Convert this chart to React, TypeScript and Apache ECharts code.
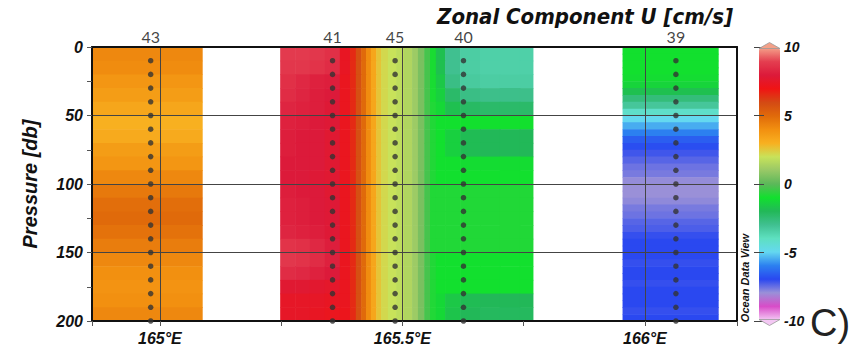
import React, { useEffect, useRef } from 'react';
import * as echarts from 'echarts';

// ---------- data ----------
const stationNames = ['43', '41', '45', '40', '39'];
const stationLons = [164.981, 165.356, 165.485, 165.626, 166.064];
const samplePressures = [10, 20, 30, 40, 50, 60, 70, 80, 90, 100, 110, 120, 130, 140, 150, 160, 170, 180, 190, 200];

// row edges (db)
const rowEdges10 = [0, 10, 20, 30, 40, 50, 60, 70, 80, 90, 100, 110, 120, 130, 140, 150, 160, 170, 180, 190, 200];
const rowEdges5 = [0, 5, 10, 15, 20, 25, 30, 35, 40, 45, 50, 55, 60, 65, 70, 75, 80, 85, 90, 95, 100,
  105, 110, 115, 120, 125, 130, 135, 140, 145, 150, 155, 160, 165, 170, 175, 180, 185, 190, 195, 200];

// block around station 43 (10 db rows)
const block1LonEdges = [164.86, 165.087];
const block1U = [4.2, 4.1, 3.8, 3.6, 3.3, 3.0, 3.2, 3.6, 3.8, 4.2, 4.6, 4.9, 5.0, 4.8, 4.5, 4.2, 4.0, 3.9, 4.0, 4.2];

// block around stations 41-45-40 (10 db rows x 25 columns)
const block2LonEdges = [165.248, 165.279, 165.309, 165.340, 165.371, 165.392, 165.404, 165.415, 165.425, 165.435,
  165.446, 165.456, 165.470, 165.487, 165.503, 165.520, 165.532, 165.545, 165.557, 165.569, 165.588, 165.619,
  165.660, 165.701, 165.742, 165.769];
const block2U = [
  [8.9, 8.9, 8.8, 8.6, 7.4, 6.6, 5.8, 5.0, 4.1, 3.3, 2.6, 2.2, 2.0, 1.8, 1.5, 1.1, 0.5, -0.3, -0.9, -1.8, -3.0, -3.4, -3.5, -3.5, -3.5],
  [8.8, 8.8, 8.7, 8.5, 7.4, 6.6, 5.8, 5.0, 4.1, 3.3, 2.6, 2.2, 2.0, 1.8, 1.5, 1.1, 0.5, -0.3, -0.9, -1.8, -3.0, -3.4, -3.5, -3.5, -3.5],
  [8.6, 8.4, 8.2, 8.1, 7.3, 6.6, 5.8, 5.0, 4.1, 3.3, 2.6, 2.2, 2.0, 1.8, 1.5, 1.1, 0.5, -0.3, -0.9, -1.6, -2.8, -3.3, -3.4, -3.4, -3.4],
  [8.5, 8.3, 8.1, 8.0, 7.3, 6.6, 5.8, 5.0, 4.1, 3.3, 2.6, 2.2, 2.0, 1.8, 1.5, 1.1, 0.5, -0.3, -0.9, -1.4, -2.3, -2.8, -2.9, -2.9, -2.9],
  [8.3, 8.2, 8.1, 7.9, 7.3, 6.6, 5.8, 5.0, 4.1, 3.3, 2.6, 2.2, 2.0, 1.8, 1.5, 1.1, 0.5, -0.3, -0.8, -1.2, -1.8, -2.2, -2.3, -2.3, -2.3],
  [8.2, 8.1, 8.0, 7.9, 7.3, 6.6, 5.8, 5.0, 4.1, 3.3, 2.6, 2.2, 2.0, 1.8, 1.5, 1.1, 0.5, -0.3, -0.8, -1.0, -1.0, -1.0, -1.0, -1.0, -1.0],
  [8.1, 8.0, 8.0, 7.8, 7.3, 6.6, 5.8, 5.0, 4.1, 3.3, 2.6, 2.2, 2.0, 1.8, 1.5, 1.1, 0.5, -0.3, -0.8, -1.0, -1.4, -1.9, -2.0, -2.0, -2.0],
  [8.1, 8.0, 8.0, 7.8, 7.3, 6.6, 5.8, 5.0, 4.1, 3.3, 2.6, 2.2, 2.0, 1.8, 1.5, 1.1, 0.5, -0.3, -0.8, -1.0, -1.4, -1.9, -2.0, -2.0, -2.0],
  [8.0, 8.0, 8.0, 7.8, 7.3, 6.6, 5.8, 5.0, 4.1, 3.3, 2.6, 2.2, 2.0, 1.8, 1.5, 1.1, 0.5, -0.3, -0.8, -1.0, -1.0, -1.1, -1.1, -1.1, -1.1],
  [8.0, 8.0, 7.9, 7.8, 7.3, 6.6, 5.8, 5.0, 4.1, 3.3, 2.6, 2.2, 2.0, 1.8, 1.5, 1.1, 0.5, -0.3, -0.8, -1.0, -1.0, -1.0, -1.0, -1.0, -1.0],
  [8.1, 8.0, 8.0, 7.8, 7.3, 6.6, 5.8, 5.0, 4.1, 3.3, 2.6, 2.2, 2.0, 1.8, 1.5, 1.1, 0.5, -0.3, -0.8, -0.8, -0.8, -0.8, -0.8, -0.8, -0.8],
  [8.2, 8.1, 8.0, 7.9, 7.3, 6.6, 5.8, 5.0, 4.1, 3.3, 2.6, 2.2, 2.0, 1.8, 1.5, 1.1, 0.5, -0.3, -0.8, -0.8, -0.8, -0.8, -0.8, -0.8, -0.8],
  [8.2, 8.1, 8.0, 7.9, 7.3, 6.6, 5.8, 5.0, 4.1, 3.3, 2.6, 2.2, 2.0, 1.8, 1.5, 1.1, 0.5, -0.3, -0.8, -0.8, -0.8, -0.8, -0.8, -0.8, -0.8],
  [8.3, 8.2, 8.1, 7.9, 7.3, 6.6, 5.8, 5.0, 4.1, 3.3, 2.6, 2.2, 2.0, 1.8, 1.5, 1.1, 0.5, -0.3, -0.8, -0.8, -0.8, -0.8, -0.8, -0.8, -0.8],
  [8.7, 8.6, 8.4, 8.1, 7.3, 6.6, 5.8, 5.0, 4.1, 3.3, 2.6, 2.2, 2.0, 1.8, 1.5, 1.1, 0.5, -0.3, -0.8, -0.8, -0.8, -0.8, -0.8, -0.8, -0.8],
  [8.8, 8.7, 8.5, 8.2, 7.3, 6.6, 5.8, 5.0, 4.1, 3.3, 2.6, 2.2, 2.0, 1.8, 1.5, 1.1, 0.5, -0.3, -0.8, -1.0, -1.0, -1.0, -1.0, -1.0, -1.0],
  [8.5, 8.4, 8.2, 8.0, 7.3, 6.6, 5.8, 5.0, 4.1, 3.3, 2.6, 2.2, 2.0, 1.8, 1.5, 1.1, 0.5, -0.3, -0.8, -1.0, -1.0, -1.0, -1.0, -1.0, -1.0],
  [7.8, 7.8, 7.7, 7.6, 7.3, 6.6, 5.8, 5.0, 4.1, 3.3, 2.6, 2.2, 2.0, 1.8, 1.5, 1.1, 0.5, -0.3, -0.8, -1.0, -1.0, -1.0, -1.0, -1.0, -1.0],
  [7.5, 7.5, 7.5, 7.4, 7.3, 6.6, 5.8, 5.0, 4.1, 3.3, 2.6, 2.2, 2.0, 1.8, 1.5, 1.1, 0.5, -0.3, -0.8, -1.2, -1.6, -1.9, -2.0, -2.0, -2.0],
  [7.5, 7.5, 7.4, 7.3, 7.2, 6.6, 5.8, 5.0, 4.1, 3.3, 2.6, 2.2, 2.0, 1.8, 1.5, 1.1, 0.5, -0.3, -0.8, -1.2, -1.7, -2.0, -2.1, -2.1, -2.1],
];

// block around station 39 (5 db rows)
const block3LonEdges = [165.954, 166.151];
const block3U = [-1.0, -1.0, -1.0, -1.0, -1.1, -1.3, -1.8, -2.6, -3.2, -4.2,
  -5.0, -5.5, -6.0, -6.6, -6.9, -7.2, -7.4, -7.6, -7.7, -7.95,
  -8.0, -8.0, -7.9, -7.7, -7.6, -7.4, -7.3, -7.1, -7.0, -7.0,
  -7.0, -7.1, -7.0, -7.0, -7.1, -7.0, -7.0, -7.0, -7.1, -7.0];

// colour scale -10 ... 10 (one colour per unit)
const colorScale = ['#f4c8f4', '#d84cc8', '#9a90d8', '#2a48f0', '#2c80f0', '#64d8f0', '#5ee0c0', '#40c090',
  '#22b858', '#12e02e', '#5cb85a', '#98c866', '#c8e25a', '#f8b020', '#f29010', '#e06a0a', '#d44a14',
  '#f01414', '#dc1a3a', '#e43e50', '#f4a088'];
const colorMin = -10;
const colorMax = 10;
const colorTicks = 5;

const pressureTicks = 50;

export default function App() {
  const ref = useRef<HTMLDivElement>(null);

  useEffect(() => {
    document.body.style.margin = '0';
    const chart = echarts.init(ref.current as HTMLDivElement, null, { renderer: 'svg' });

    const cells: number[][] = [];
    block1U.forEach((u, r) => cells.push([block1LonEdges[0], block1LonEdges[1], rowEdges10[r], rowEdges10[r + 1], u]));
    block2U.forEach((row, r) => row.forEach((u, c) =>
      cells.push([block2LonEdges[c], block2LonEdges[c + 1], rowEdges10[r], rowEdges10[r + 1], u])));
    block3U.forEach((u, r) => cells.push([block3LonEdges[0], block3LonEdges[1], rowEdges5[r], rowEdges5[r + 1], u]));

    const dots: number[][] = [];
    stationLons.forEach((lon) => samplePressures.forEach((p) => dots.push([lon, p])));

    const bold = { fontFamily: '"Liberation Sans", Arial, sans-serif', fontWeight: 'bold' as const, fontStyle: 'italic' as const };

    const option: any = {
      animation: false,
      backgroundColor: '#ffffff',
      grid: [
        { left: 92, top: 47, width: 645, height: 274, containLabel: false, outerBoundsMode: 'none' },
        { left: 759, top: 47, width: 21, height: 274, containLabel: false, outerBoundsMode: 'none' },
      ],
      xAxis: [
        {
          type: 'value', gridIndex: 0, min: 164.86, max: 166.19, splitNumber: 3, z: 3,
          axisLine: { show: true, onZero: false, lineStyle: { color: '#111', width: 2 } },
          axisTick: { show: true, inside: false, length: 5, lineStyle: { color: '#555' } },
          minorTick: { show: true, splitNumber: 2, length: 5, lineStyle: { color: '#555' } },
          axisLabel: { ...bold, showMinLabel: false, showMaxLabel: false, fontSize: 16, color: '#111', margin: 9,
            formatter: (v: number) => `${v}°E` },
          splitLine: { show: true, lineStyle: { color: '#444', width: 1 } },
        },
        {
          type: 'value', gridIndex: 0, position: 'top', min: 164.86, max: 166.19, z: 3,
          axisLine: { show: true, onZero: false, lineStyle: { color: '#111', width: 2 } },
          axisTick: { show: false }, axisLabel: { show: false }, splitLine: { show: false },
        },
        { type: 'value', gridIndex: 1, min: 0, max: 1, show: false },
      ],
      yAxis: [
        {
          type: 'value', gridIndex: 0, inverse: true, min: 0, max: 200, interval: pressureTicks, z: 3,
          axisLine: { show: true, onZero: false, lineStyle: { color: '#111', width: 2 } },
          axisTick: { show: true, inside: false, length: 5, lineStyle: { color: '#555' } },
          minorTick: { show: true, splitNumber: 2, length: 5, lineStyle: { color: '#555' } },
          axisLabel: { ...bold, fontSize: 16, color: '#111', margin: 9 },
          splitLine: { show: true, lineStyle: { color: '#444', width: 1 } },
          name: 'Pressure [db]', nameLocation: 'middle', nameGap: 52, nameRotate: 90,
          nameTextStyle: { fontFamily: '"Liberation Sans", Arial, sans-serif', fontStyle: 'italic', fontWeight: 'bold', fontSize: 20, color: '#111' },
        },
        {
          type: 'value', gridIndex: 0, position: 'right', inverse: true, min: 0, max: 200, z: 3,
          axisLine: { show: true, onZero: false, lineStyle: { color: '#111', width: 2 } },
          axisTick: { show: false }, axisLabel: { show: false }, splitLine: { show: false },
        },
        {
          type: 'value', gridIndex: 1, position: 'right', min: colorMin, max: colorMax, interval: colorTicks, z: 4,
          axisLine: { show: false },
          axisTick: { show: true, inside: true, length: 5, lineStyle: { color: '#444' } },
          axisLabel: { ...bold, fontSize: 14, color: '#111', margin: 4 },
          splitLine: { show: false },
        },
        {
          type: 'value', gridIndex: 1, position: 'left', min: colorMin, max: colorMax, interval: colorTicks, z: 4,
          axisLine: { show: false },
          axisTick: { show: true, inside: true, length: 5, lineStyle: { color: '#444' } },
          axisLabel: { show: false },
          splitLine: { show: false },
        },
      ],
      visualMap: {
        type: 'continuous', min: colorMin, max: colorMax, dimension: 4, seriesIndex: 0,
        calculable: false, hoverLink: false, show: true, orient: 'vertical',
        left: 759, top: 48, itemWidth: 21, itemHeight: 272, padding: 0,
        inRange: { color: colorScale },
        textStyle: { color: 'transparent' },
      },
      series: [
        {
          type: 'custom', xAxisIndex: 0, yAxisIndex: 0, z: 1, silent: true,
          encode: { x: [0, 1], y: [2, 3] },
          data: cells,
          renderItem: (_params: any, api: any) => {
            const a = api.coord([api.value(0), api.value(2)]);
            const b = api.coord([api.value(1), api.value(3)]);
            return {
              type: 'rect',
              shape: { x: Math.min(a[0], b[0]), y: Math.min(a[1], b[1]), width: Math.abs(b[0] - a[0]) + 0.6, height: Math.abs(b[1] - a[1]) + 0.6 },
              style: { fill: api.visual('color') },
            };
          },
        },
        {
          type: 'scatter', xAxisIndex: 0, yAxisIndex: 0, z: 5, silent: true,
          symbolSize: 5.5, itemStyle: { color: '#333' }, data: dots,
        },
        {
          type: 'scatter', xAxisIndex: 0, yAxisIndex: 0, z: 5, silent: true, clip: false,
          symbolSize: 1, itemStyle: { color: 'rgba(0,0,0,0)' },
          data: stationLons.map((lon) => [lon, 0]),
          label: {
            show: true, position: 'top', distance: 2, color: '#111', fontFamily: 'Lato, "Open Sans", sans-serif', fontSize: 16,
            formatter: (p: any) => stationNames[p.dataIndex],
          },
        },
        { type: 'scatter', xAxisIndex: 2, yAxisIndex: 2, data: [] },
      ],
      graphic: [
        {
          type: 'text', z: 10,
          style: { text: 'Zonal Component U [cm/s]', x: 733, y: 16, align: 'right', verticalAlign: 'middle',
            fontFamily: '"Liberation Sans Narrow", "DejaVu Sans Condensed", Arial, sans-serif', fontWeight: 'bold', fontStyle: 'italic', fontSize: 22, fill: '#111' },
        },
        {
          type: 'polygon', z: 10,
          shape: { points: [[759, 48.5], [769.5, 42.5], [780, 48.5]] },
          style: { fill: '#f4a088', stroke: '#999', lineWidth: 0.8 },
        },
        {
          type: 'polygon', z: 10,
          shape: { points: [[759, 319.5], [769.5, 325.5], [780, 319.5]] },
          style: { fill: '#f4c8f4', stroke: '#999', lineWidth: 0.8 },
        },
        {
          type: 'text', z: 10, x: 745, y: 278, rotation: Math.PI / 2,
          style: { text: 'Ocean Data View', x: 0, y: 0, align: 'center', verticalAlign: 'middle',
            fontFamily: '"Liberation Sans", Arial, sans-serif', fontWeight: 'bold', fontStyle: 'italic', fontSize: 11, fill: '#111' },
        },
        {
          type: 'text', z: 10,
          style: { text: 'C)', x: 810, y: 323, align: 'left', verticalAlign: 'middle',
            fontFamily: '"Liberation Sans", Arial, sans-serif', fontSize: 38, fill: '#222' },
        },
      ],
    };

    chart.setOption(option);
    return () => chart.dispose();
  }, []);

  return <div ref={ref} style={{ width: 864, height: 352 }} />;
}
